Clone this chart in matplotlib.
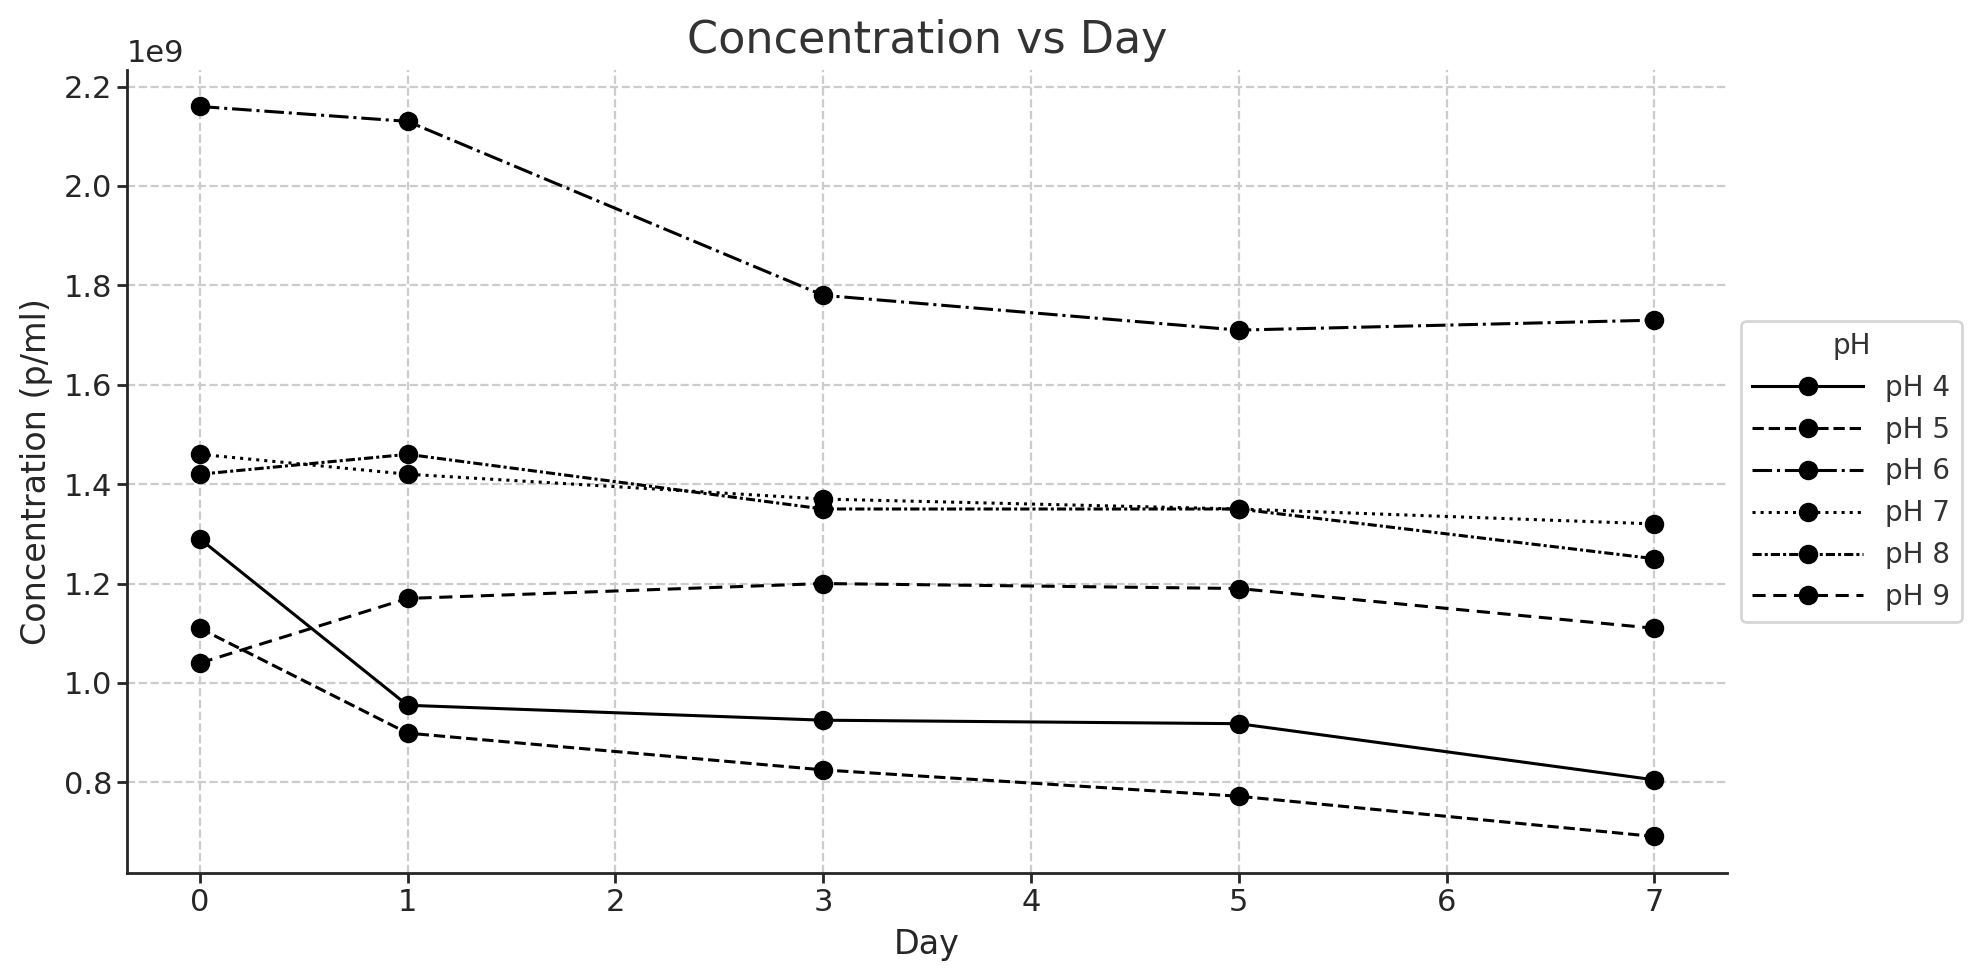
import matplotlib
matplotlib.use("Agg")
import matplotlib.pyplot as plt

# Data (concentration in p/ml)
days = [0, 1, 3, 5, 7]
ph_labels = ["pH 4", "pH 5", "pH 6", "pH 7", "pH 8", "pH 9"]
ph4 = [1.29e9, 0.955e9, 0.925e9, 0.918e9, 0.805e9]
ph5 = [1.11e9, 0.899e9, 0.825e9, 0.772e9, 0.691e9]
ph6 = [2.16e9, 2.13e9, 1.78e9, 1.71e9, 1.73e9]
ph7 = [1.46e9, 1.42e9, 1.37e9, 1.35e9, 1.32e9]
ph8 = [1.42e9, 1.46e9, 1.35e9, 1.35e9, 1.25e9]
ph9 = [1.04e9, 1.17e9, 1.20e9, 1.19e9, 1.11e9]
series = [ph4, ph5, ph6, ph7, ph8, ph9]

linestyles = ['-', '--', '-.', ':', (0, (3, 1, 1, 1)), (0, (4.3, 2.5))]

plt.rcParams['font.family'] = ['DejaVu Sans']
plt.rcParams['text.color'] = '#333333'
plt.rcParams['axes.labelcolor'] = '#262626'
plt.rcParams['xtick.color'] = '#262626'
plt.rcParams['ytick.color'] = '#262626'

fig = plt.figure(figsize=(1979 / 200, 980 / 200), dpi=200)
ax = fig.add_axes([0.0642, 0.1092, 0.8085, 0.8194])

for vals, lab, ls in zip(series, ph_labels, linestyles):
    ax.plot(days, vals, color='black', linestyle=ls, marker='o',
            markersize=6, linewidth=1.1, label=lab)

ax.set_title('Concentration vs Day', fontsize=16, color='#333333')
ax.set_xlabel('Day', fontsize=12)
ax.set_ylabel('Concentration (p/ml)', fontsize=12)
ax.tick_params(axis='both', labelsize=11, length=3.5, width=1.0, pad=1.8)
ax.yaxis.get_offset_text().set_fontsize(11)

ax.grid(True, linestyle='--', color='#cccccc', linewidth=0.8)
ax.set_axisbelow(True)
for side in ['top', 'right']:
    ax.spines[side].set_visible(False)
for side in ['left', 'bottom']:
    ax.spines[side].set_color('#262626')
    ax.spines[side].set_linewidth(1.0)

leg = ax.legend(title='pH', loc='center left', bbox_to_anchor=(1, 0.5),
                fontsize=10, title_fontsize=10, handlelength=4.0,
                frameon=True)
for t in leg.get_texts():
    t.set_color('#333333')
leg.get_title().set_color('#333333')

fig.savefig('out.png', dpi=200)
